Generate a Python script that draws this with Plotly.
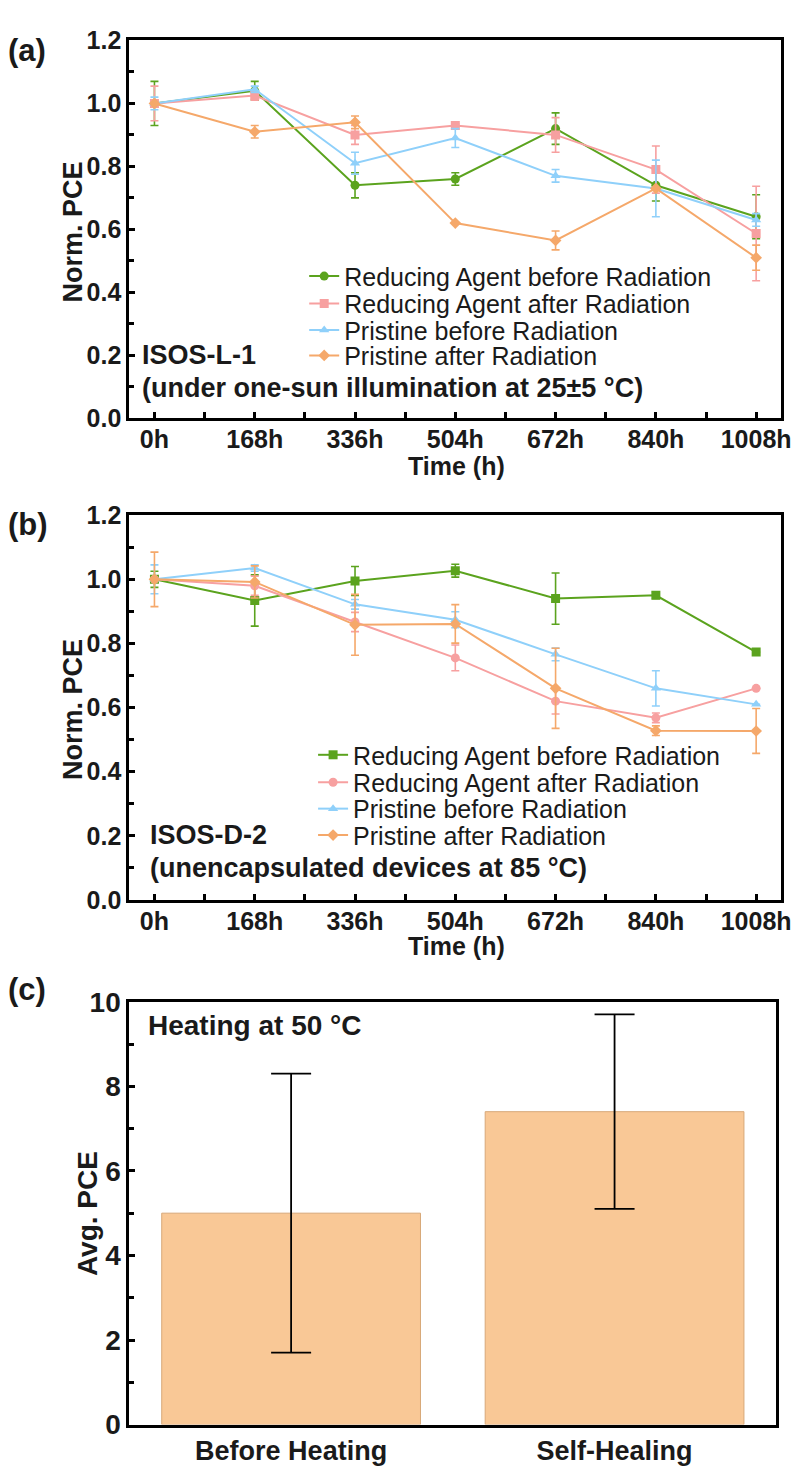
import plotly.graph_objects as go

W, H = 809, 1469

hours = [0, 168, 336, 504, 672, 840, 1008]
hour_labels = ["0h", "168h", "336h", "504h", "672h", "840h", "1008h"]
series_names = ["Reducing Agent before Radiation", "Reducing Agent after Radiation",
                "Pristine before Radiation", "Pristine after Radiation"]

# Panel (a) ISOS-L-1
a_ra_before = [1.00, 1.04, 0.74, 0.76, 0.92, 0.74, 0.64]
a_ra_before_err = [0.07, 0.03, 0.04, 0.02, 0.05, 0.05, 0.07]
a_ra_after = [1.00, 1.025, 0.90, 0.93, 0.90, 0.79, 0.587]
a_ra_after_err = [0.055, 0.015, 0.03, 0.005, 0.055, 0.075, 0.15]
a_pr_before = [1.00, 1.045, 0.81, 0.89, 0.77, 0.73, 0.63]
a_pr_before_err = [0.02, 0.01, 0.035, 0.03, 0.02, 0.09, 0.02]
a_pr_after = [1.00, 0.91, 0.94, 0.62, 0.565, 0.73, 0.51]
a_pr_after_err = [0.0, 0.02, 0.02, 0.0, 0.03, 0.0, 0.04]

# Panel (b) ISOS-D-2
b_ra_before = [1.00, 0.934, 0.995, 1.027, 0.94, 0.95, 0.773]
b_ra_before_err = [0.025, 0.08, 0.045, 0.02, 0.08, 0.01, 0.0]
b_ra_after = [1.00, 0.98, 0.867, 0.755, 0.62, 0.568, 0.66]
b_ra_after_err = [0.0, 0.03, 0.03, 0.04, 0.04, 0.015, 0.0]
b_pr_before = [1.00, 1.035, 0.922, 0.874, 0.766, 0.66, 0.61]
b_pr_before_err = [0.045, 0.01, 0.015, 0.025, 0.02, 0.055, 0.0]
b_pr_after = [1.00, 0.992, 0.858, 0.861, 0.66, 0.528, 0.527]
b_pr_after_err = [0.085, 0.05, 0.095, 0.06, 0.125, 0.015, 0.07]

# Panel (c)
bar_categories = ["Before Heating", "Self-Healing"]
bar_values = [5.0, 7.4]
bar_errors = [3.3, 2.3]

GREEN = "#5BA31E"
PINK = "#F7A0A0"
BLUE = "#8FD0FA"
ORANGE = "#F5A86A"
TXT = "#1a1a1a"

FONT = "Liberation Sans, Arial, sans-serif"

fig = go.Figure()


def add_line(x, y, err, name, color, symbol, xa, ya, legend):
    fig.add_trace(go.Scatter(
        x=x, y=y, name=name, mode="lines+markers",
        line=dict(color=color, width=2),
        marker=dict(color=color, symbol=symbol, size=9),
        error_y=dict(type="data", array=err, visible=True, color=color, thickness=1.6, width=4),
        xaxis=xa, yaxis=ya, legend=legend,
    ))


add_line(hours, a_ra_before, a_ra_before_err, series_names[0], GREEN, "circle", "x", "y", "legend")
add_line(hours, a_ra_after, a_ra_after_err, series_names[1], PINK, "square", "x", "y", "legend2")
add_line(hours, a_pr_before, a_pr_before_err, series_names[2], BLUE, "triangle-up", "x", "y", "legend3")
add_line(hours, a_pr_after, a_pr_after_err, series_names[3], ORANGE, "diamond", "x", "y", "legend4")

add_line(hours, b_ra_before, b_ra_before_err, series_names[0], GREEN, "square", "x2", "y2", "legend5")
add_line(hours, b_ra_after, b_ra_after_err, series_names[1], PINK, "circle", "x2", "y2", "legend6")
add_line(hours, b_pr_before, b_pr_before_err, series_names[2], BLUE, "triangle-up", "x2", "y2", "legend7")
add_line(hours, b_pr_after, b_pr_after_err, series_names[3], ORANGE, "diamond", "x2", "y2", "legend8")

fig.add_trace(go.Bar(
    x=bar_categories, y=bar_values, width=0.8,
    marker=dict(color="#F9C896", line=dict(color="#D8A878", width=1)),
    error_y=dict(type="data", array=bar_errors, visible=True, color="black", thickness=1.8, width=20),
    xaxis="x3", yaxis="y3", showlegend=False,
))


def px_x(p):
    return p / W


def px_y(p):
    return 1 - p / H


axis_common = dict(showline=True, linecolor="black", linewidth=3, mirror=True,
                   ticks="inside", ticklen=6, tickwidth=2.5, tickcolor="black",
                   showgrid=False, zeroline=False)

tick_font = dict(family=FONT, size=25, color=TXT, weight="bold")

xdom = [px_x(131), px_x(791)]
time_axis = dict(axis_common, range=[-42, 1050], tickmode="array", tickvals=hours, ticktext=hour_labels,
                 tickfont=tick_font, ticklabelstandoff=-3,
                 minor=dict(ticks="inside", ticklen=6, tickwidth=2.5, tickcolor="black", dtick=84, tick0=0))
norm_axis = dict(axis_common, range=[0, 1.2], dtick=0.2, tickformat=".1f",
                 tickfont=tick_font,
                 minor=dict(ticks="inside", ticklen=5, tickwidth=2.5, tickcolor="black", dtick=0.1))

layout = dict(
    width=W, height=H, margin=dict(l=0, r=0, t=0, b=0),
    paper_bgcolor="white", plot_bgcolor="white",
    font=dict(family=FONT, color=TXT),
    xaxis=dict(time_axis, domain=xdom, anchor="y"),
    yaxis=dict(norm_axis, domain=[px_y(412), px_y(26)], anchor="x"),
    xaxis2=dict(time_axis, domain=xdom, anchor="y2"),
    yaxis2=dict(norm_axis, domain=[px_y(904), px_y(511)], anchor="x2"),
    xaxis3=dict(axis_common, domain=[px_x(131), px_x(786)], anchor="y3", ticks="",
                range=[-0.5, 1.5],
                tickfont=dict(family=FONT, size=27, color=TXT, weight="bold")),
    yaxis3=dict(axis_common, domain=[px_y(1440), px_y(1008)], anchor="x3", range=[0, 10], dtick=2,
                tickfont=dict(family=FONT, size=28, color=TXT, weight="bold"),
                minor=dict(ticks="inside", ticklen=5, tickwidth=2.5, tickcolor="black", dtick=1)),
    showlegend=True,
)

legend_rows = [(308, 267), (308, 295), (308, 322), (308, 348),
               (317, 756), (317, 784), (317, 811), (317, 838)]
for i, (lx, ly) in enumerate(legend_rows):
    key = "legend" if i == 0 else f"legend{i + 1}"
    layout[key] = dict(x=px_x(lx), y=px_y(ly), xanchor="left", yanchor="middle",
                       bgcolor="rgba(0,0,0,0)", font=dict(family=FONT, size=25, color=TXT),
                       tracegroupgap=0, itemwidth=30, borderwidth=0)

fig.update_layout(**layout)

ann = []


def text(x, y, s, size, xanchor="left", angle=0):
    ann.append(dict(xref="paper", yref="paper", x=px_x(x), y=px_y(y), text=f"<b>{s}</b>",
                    showarrow=False, xanchor=xanchor, yanchor="middle", textangle=angle,
                    font=dict(family=FONT, size=size, color=TXT)))


text(6, 36, "(a)", 31)
text(6, 520, "(b)", 31)
text(6, 996, "(c)", 31)
text(142, 347, "ISOS-L-1", 27)
text(142, 381, "(under one-sun illumination at 25±5 °C)", 27)
text(150, 838, "ISOS-D-2", 27)
text(150, 871, "(unencapsulated devices at 85 °C)", 27)
text(462, 461, "Time (h)", 25, xanchor="center")
text(462, 951, "Time (h)", 25, xanchor="center")
text(74, 222, "Norm. PCE", 27, xanchor="center", angle=-90)
text(74, 710, "Norm. PCE", 27, xanchor="center", angle=-90)
text(88, 1224, "Avg. PCE", 28, xanchor="center", angle=-90)
text(148, 1032, "Heating at 50 °C", 28)

fig.update_layout(annotations=ann)

fig.write_html("out.html")
